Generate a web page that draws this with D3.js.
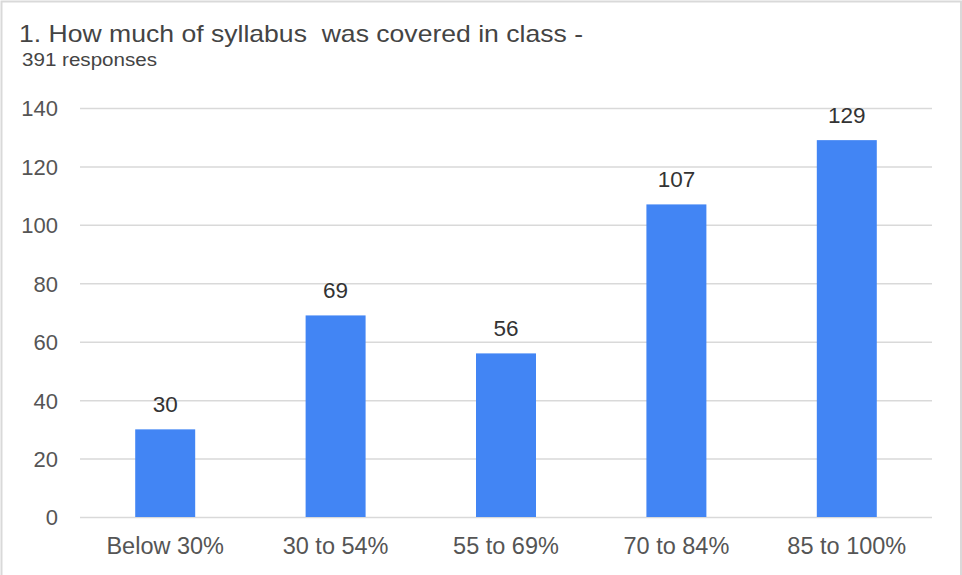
<!DOCTYPE html>
<html>
<head>
<meta charset="utf-8">
<script src="https://cdn.jsdelivr.net/npm/d3@7"></script>
<style>
  body { margin: 0; background: #fff; }
  svg text { font-family: "Liberation Sans", Arial, sans-serif; white-space: pre; }
</style>
</head>
<body>
<div id="chart-container"></div>
<script>
var categories = ["Below 30%", "30 to 54%", "55 to 69%", "70 to 84%", "85 to 100%"];
var counts = [30, 69, 56, 107, 129];
var yTicks = [0, 20, 40, 60, 80, 100, 120, 140];
var titleText = "1. How much of syllabus  was covered in class -";
var subtitleText = "391 responses";

var width = 962,
    height = 575,
    margin = { left: 80, right: 30, top: 108, bottom: 58 };

var svg = d3.select("#chart-container").append("svg")
    .attr("width", width)
    .attr("height", height);

// outer frame
svg.append("rect")
    .attr("x", 1.5).attr("y", 1.5)
    .attr("width", width - 2.5).attr("height", height + 10)
    .attr("fill", "none")
    .attr("stroke", "#d9d9d9")
    .attr("stroke-width", 2);

svg.append("text")
    .attr("x", 19).attr("y", 42)
    .attr("fill", "#444")
    .attr("textLength", 564)
    .attr("lengthAdjust", "spacingAndGlyphs")
    .style("font-size", "24px")
    .text(titleText);

svg.append("text")
    .attr("x", 22).attr("y", 65.5)
    .attr("fill", "#444")
    .attr("textLength", 135)
    .attr("lengthAdjust", "spacingAndGlyphs")
    .style("font-size", "17.5px")
    .text(subtitleText);

var xScale = d3.scaleBand()
    .domain(categories)
    .range([margin.left, width - margin.right])
    .paddingInner(0.648)
    .paddingOuter(0.324);

var yScale = d3.scaleLinear()
    .domain([0, 140])
    .range([height - margin.bottom, margin.top]);

// gridlines + y labels
var yAxis = d3.axisLeft(yScale)
    .tickValues(yTicks)
    .tickSize(-(width - margin.left - margin.right))
    .tickPadding(22);

var gY = svg.append("g")
    .attr("transform", "translate(" + margin.left + ",0)")
    .call(yAxis);
gY.select(".domain").remove();
gY.selectAll(".tick line").attr("stroke", "#d9d9d9").attr("stroke-width", 1.5);
gY.selectAll(".tick text")
    .attr("fill", "#555")
    .attr("dy", "0.36em")
    .style("font-size", "22px")
    .style("font-family", "'Liberation Sans', Arial, sans-serif");

// bars
svg.append("g").selectAll("rect")
    .data(counts)
    .enter().append("rect")
    .attr("x", (d, i) => xScale(categories[i]))
    .attr("y", d => yScale(d))
    .attr("width", xScale.bandwidth())
    .attr("height", d => yScale(0) - yScale(d))
    .attr("fill", "#4285f4");

// value labels
svg.append("g").selectAll("text")
    .data(counts)
    .enter().append("text")
    .attr("x", (d, i) => xScale(categories[i]) + xScale.bandwidth() / 2)
    .attr("y", d => yScale(d) - 17)
    .attr("text-anchor", "middle")
    .attr("fill", "#333")
    .style("font-size", "22.5px")
    .text(d => d);

// x labels
var xAxis = d3.axisBottom(xScale).tickSize(0).tickPadding(20);
var gX = svg.append("g")
    .attr("transform", "translate(0," + yScale(0) + ")")
    .call(xAxis);
gX.select(".domain").remove();
gX.selectAll(".tick text")
    .attr("fill", "#555")
    .attr("dy", "0.71em")
    .style("font-size", "23.5px")
    .style("font-family", "'Liberation Sans', Arial, sans-serif");
</script>
</body>
</html>
